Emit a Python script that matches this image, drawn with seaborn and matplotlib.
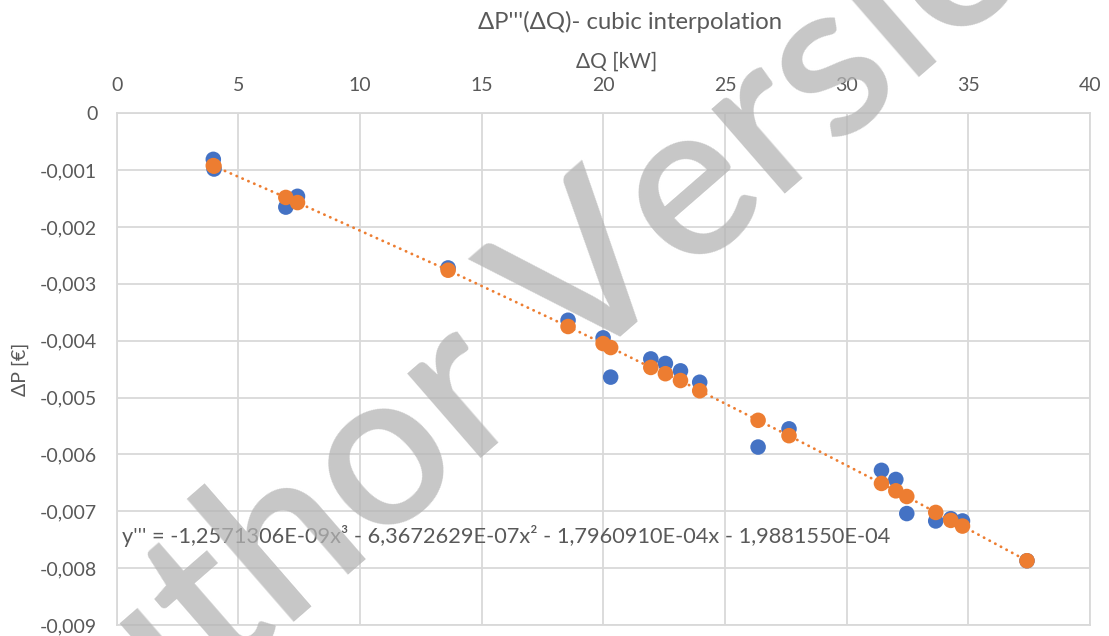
import numpy as np
import pandas as pd
import matplotlib
matplotlib.use("Agg")
import matplotlib.pyplot as plt
from matplotlib.ticker import FuncFormatter
import seaborn as sns

# ---- data ----
dq = [3.97, 4.00, 6.95, 7.43, 13.62, 18.55, 19.99, 20.30, 21.95, 22.55,
      23.17, 23.96, 26.36, 27.63, 31.43, 32.02, 32.47, 33.66, 34.28, 34.76, 37.41]
dp_measured = [-0.00081, -0.00098, -0.00165, -0.00146, -0.00272, -0.00364, -0.00395,
               -0.00464, -0.00432, -0.00440, -0.00453, -0.00473, -0.00587, -0.00555,
               -0.00628, -0.00644, -0.00704, -0.00717, -0.00713, -0.00717, -0.00787]
dp_cubic = [-0.00092, -0.00093, -0.00148, -0.00157, -0.00276, -0.00375, -0.00405,
            -0.00412, -0.00447, -0.00458, -0.00470, -0.00488, -0.00540, -0.00567,
            -0.00651, -0.00664, -0.00674, -0.00702, -0.00716, -0.00726, -0.00787]
x_ticks = [0, 5, 10, 15, 20, 25, 30, 35, 40]
y_ticks = [0, -0.001, -0.002, -0.003, -0.004, -0.005, -0.006, -0.007, -0.008, -0.009]

title = "ΔP'''(ΔQ)- cubic interpolation"
x_label = "ΔQ [kW]"
y_label = "ΔP [€]"
equation = ("y''' = -1,2571306E-09x³ - 6,3672629E-07x² - 1,7960910E-04x - 1,9881550E-04")
watermark = "Author Version"

df = pd.DataFrame({"dq": dq, "measured": dp_measured, "cubic": dp_cubic})

sns.set_theme(style="whitegrid")
plt.rcParams["font.family"] = ["Lato", "DejaVu Sans"]

TXT = "#595959"
GRID = "#d9d9d9"
BLUE = "#4472C4"
ORANGE = "#ED7D31"

fig = plt.figure(figsize=(11.09, 6.36), dpi=100)
ax = fig.add_axes([116.7 / 1109, 1 - 625 / 636, (1090 - 116.7) / 1109, (625 - 113.3) / 636])

sns.scatterplot(data=df, x="dq", y="measured", ax=ax, color=BLUE, s=125,
                edgecolor="none", linewidth=0, zorder=3, legend=False)
sns.lineplot(data=df, x="dq", y="cubic", ax=ax, color=ORANGE, linewidth=2.0,
             linestyle=(0, (0.1, 2.2)), dash_capstyle="round", zorder=4, legend=False)
sns.scatterplot(data=df, x="dq", y="cubic", ax=ax, color=ORANGE, s=125,
                edgecolor="none", linewidth=0, zorder=5, legend=False)

ax.set_xlim(0, 40)
ax.set_ylim(-0.009, 0)
ax.set_xticks(x_ticks)
ax.set_yticks(y_ticks)
ax.xaxis.tick_top()
ax.xaxis.set_label_position("top")
ax.yaxis.set_major_formatter(FuncFormatter(lambda v, p: "0" if abs(v) < 1e-12 else f"{v:.3f}".replace(".", ",")))
ax.xaxis.set_major_formatter(FuncFormatter(lambda v, p: f"{v:g}"))
ax.tick_params(axis="both", length=0, colors=TXT, labelsize=14)
ax.tick_params(axis="x", pad=14)
ax.tick_params(axis="y", pad=14)
ax.grid(True, color=GRID, linewidth=1.3)
for s in ax.spines.values():
    s.set_color(GRID)
    s.set_linewidth(1.3)
ax.set_xlabel(x_label, fontsize=15, color=TXT)
ax.xaxis.set_label_coords((617 - 116.7) / 973.3, (625 - 62) / 511.7)
ax.xaxis.label.set_va("center")
ax.set_ylabel(y_label, fontsize=14, color=TXT)
ax.yaxis.set_label_coords(-(116.7 - 20) / 973.3, 0.5)
ax.yaxis.label.set_va("center")

fig.text(630 / 1109, 1 - 22 / 636, title, ha="center", va="center", fontsize=17.2, color=TXT)
ax.text(122 / 1109, 1 - 536 / 636, equation, transform=fig.transFigure, ha="left",
        va="center", fontsize=15.7, color=TXT, zorder=6)

fig.text(535 / 1109, 1 - 328 / 636, watermark, rotation=41, rotation_mode="anchor",
         ha="center", va="center", fontsize=158, fontweight="semibold",
         color="#b4b4b4", alpha=0.75, zorder=10)

fig.savefig("out.png", dpi=100, facecolor="white")
